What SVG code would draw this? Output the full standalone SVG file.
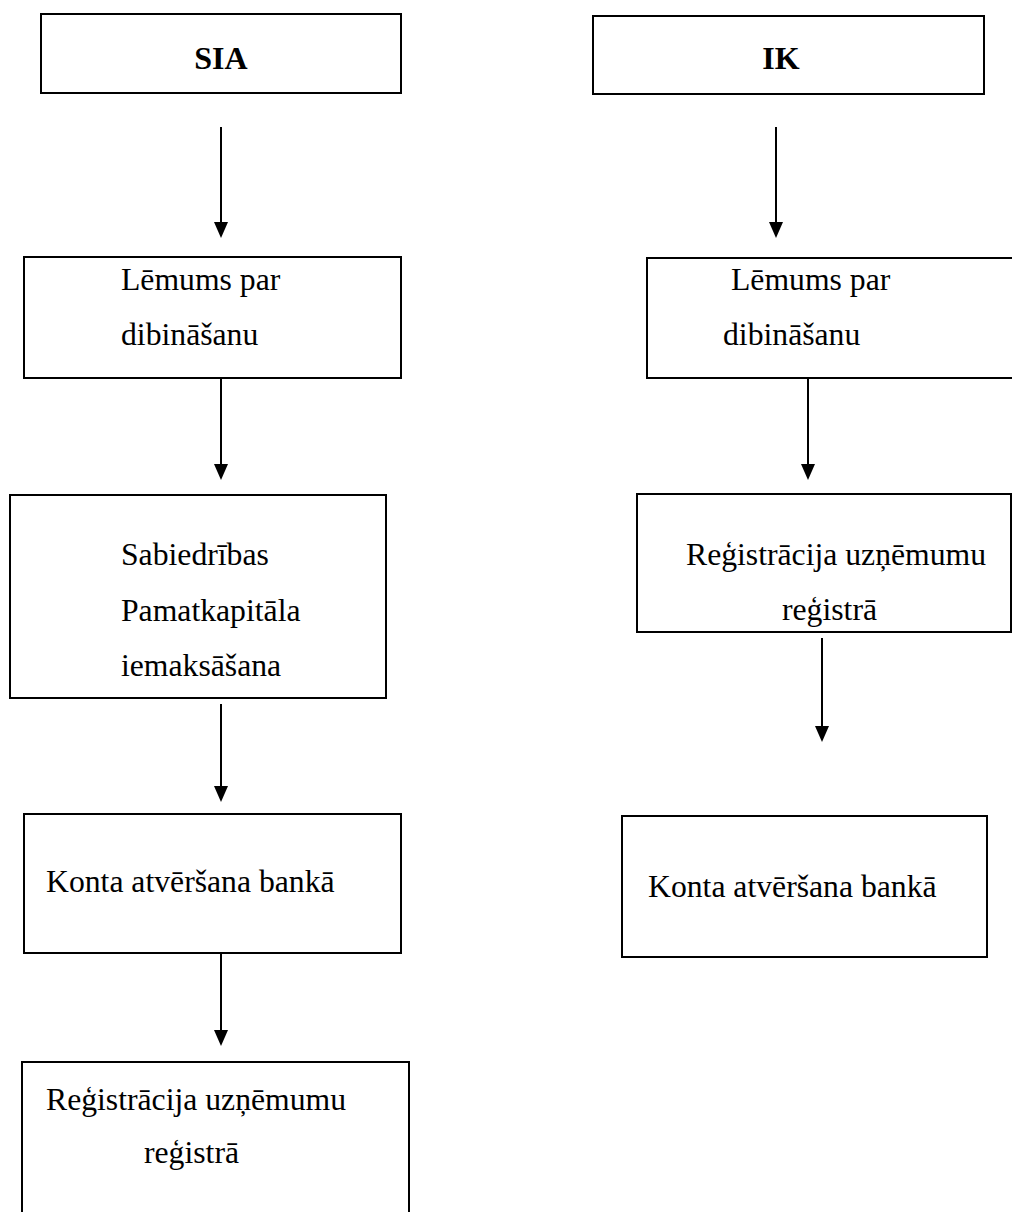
<svg xmlns="http://www.w3.org/2000/svg" width="1012" height="1212" viewBox="0 0 1012 1212">
  <style>
    .box { fill: #ffffff; stroke: #000000; stroke-width: 2; }
    .lbl { font-family: "Liberation Serif", "Times New Roman", serif; font-size: 31.7px; fill: #000000; }
    .hdr { font-family: "Liberation Serif", "Times New Roman", serif; font-size: 32px; font-weight: bold; fill: #000000; text-anchor: middle; }
    .edge { stroke: #000000; stroke-width: 2; fill: none; marker-end: url(#arrow); }
  </style>
  <defs>
    <!-- solid triangular head, pointing along the line direction -->
    <marker id="arrow" markerUnits="userSpaceOnUse" markerWidth="16" markerHeight="14" refX="13" refY="7" orient="auto" viewBox="0 0 16 14">
      <path d="M0,0 L16,7 L0,14 Z" fill="#000000"/>
    </marker>
  </defs>

  <rect width="1012" height="1212" fill="#ffffff"/>

  <!-- Left column: SIA -->
  <g id="sia">
    <rect class="box" x="41" y="14" width="360" height="79"/>
    <text class="hdr" x="221" y="69">SIA</text>
  </g>
  <g id="sia-lemums">
    <rect class="box" x="24" y="257" width="377" height="121"/>
    <text class="lbl" x="121" y="290">Lēmums par</text>
    <text class="lbl" x="121" y="345">dibināšanu</text>
  </g>
  <g id="sia-kapitals">
    <rect class="box" x="10" y="495" width="376" height="203"/>
    <text class="lbl" x="121" y="565">Sabiedrības</text>
    <text class="lbl" x="121" y="621">Pamatkapitāla</text>
    <text class="lbl" x="121" y="676">iemaksāšana</text>
  </g>
  <g id="sia-konts">
    <rect class="box" x="24" y="814" width="377" height="139"/>
    <text class="lbl" x="46" y="892">Konta atvēršana bankā</text>
  </g>
  <g id="sia-registracija">
    <rect class="box" x="22" y="1062" width="387" height="170"/>
    <text class="lbl" x="46" y="1110">Reģistrācija uzņēmumu</text>
    <text class="lbl" x="144" y="1163">reģistrā</text>
  </g>

  <!-- Right column: IK -->
  <g id="ik">
    <rect class="box" x="593" y="16" width="391" height="78"/>
    <text class="hdr" x="781" y="69">IK</text>
  </g>
  <g id="ik-lemums">
    <rect class="box" x="647" y="258" width="380" height="120"/>
    <text class="lbl" x="731" y="290">Lēmums par</text>
    <text class="lbl" x="723" y="345">dibināšanu</text>
  </g>
  <g id="ik-registracija">
    <rect class="box" x="637" y="494" width="374" height="138"/>
    <text class="lbl" x="686" y="565">Reģistrācija uzņēmumu</text>
    <text class="lbl" x="782" y="620">reģistrā</text>
  </g>
  <g id="ik-konts">
    <rect class="box" x="622" y="816" width="365" height="141"/>
    <text class="lbl" x="648" y="897">Konta atvēršana bankā</text>
  </g>

  <!-- Connectors -->
  <g id="connectors">
    <line class="edge" x1="221" y1="127" x2="221" y2="235"/>
    <line class="edge" x1="221" y1="378" x2="221" y2="477"/>
    <line class="edge" x1="221" y1="704" x2="221" y2="799"/>
    <line class="edge" x1="221" y1="953" x2="221" y2="1043"/>
    <line class="edge" x1="776" y1="127" x2="776" y2="235"/>
    <line class="edge" x1="808" y1="378" x2="808" y2="477"/>
    <line class="edge" x1="822" y1="638" x2="822" y2="739"/>
  </g>
</svg>
